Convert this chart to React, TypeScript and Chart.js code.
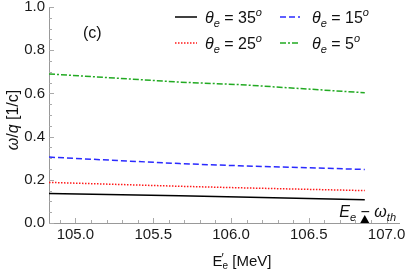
import { useEffect, useRef } from 'react';
import { Chart, registerables } from 'chart.js';

Chart.register(...registerables);

// ---- data ----
const energies = [104.83, 105.67, 106.05, 106.86];
const theta35 = [0.137, 0.126, 0.12, 0.108];
const theta25 = [0.188, 0.17, 0.163, 0.15];
const theta15 = [0.305, 0.275, 0.265, 0.248];
const theta5 = [0.69, 0.652, 0.641, 0.603];
const xTickValues = [105.0, 105.5, 106.0, 106.5, 107.0];
const yTickValues = [0.0, 0.2, 0.4, 0.6, 0.8, 1.0];
const xMinorStep = 0.1;
const yMinorStep = 0.05;
const xMin = 104.83;
const xMax = 107.08;
const thresholdEnergy = 106.86;
const angleLabels = ['35', '15', '25', '5'];

const FONT = "'Liberation Sans', Arial, Helvetica, sans-serif";

type Run = { text: string; size: number; italic?: boolean; dy?: number };

function runsWidth(ctx: CanvasRenderingContext2D, runs: Run[]) {
  let w = 0;
  for (const r of runs) {
    ctx.font = `${r.italic ? 'italic ' : ''}${r.size}px ${FONT}`;
    w += ctx.measureText(r.text).width;
  }
  return w;
}

function drawRuns(
  ctx: CanvasRenderingContext2D,
  runs: Run[],
  x: number,
  y: number,
  align: 'left' | 'center' | 'right' = 'left'
) {
  const total = runsWidth(ctx, runs);
  let cx = align === 'left' ? x : align === 'center' ? x - total / 2 : x - total;
  ctx.textAlign = 'left';
  ctx.textBaseline = 'alphabetic';
  for (const r of runs) {
    ctx.font = `${r.italic ? 'italic ' : ''}${r.size}px ${FONT}`;
    ctx.fillText(r.text, cx, y + (r.dy || 0));
    cx += ctx.measureText(r.text).width;
  }
}

const styles = [
  { color: '#000000', dash: [] as number[] },
  { color: '#2a2aff', dash: [6, 3] },
  { color: '#ff1a1a', dash: [1.5, 1.5] },
  { color: '#22aa22', dash: [6, 2, 2, 2] },
];

const decorPlugin = {
  id: 'decor',
  afterDraw(chart: any) {
    const ctx: CanvasRenderingContext2D = chart.ctx;
    const xs = chart.scales.x;
    const ys = chart.scales.y;
    const area = chart.chartArea;
    ctx.save();

    // inward ticks
    ctx.strokeStyle = '#aaaaaa';
    ctx.lineWidth = 1;
    ctx.setLineDash([]);
    const bottom = area.bottom;
    const left = area.left;
    for (let v = Math.ceil(xMin / xMinorStep) * xMinorStep; v <= xMax + 1e-9; v += xMinorStep) {
      const major = xTickValues.some((t) => Math.abs(t - v) < 1e-6);
      const px = Math.round(xs.getPixelForValue(v)) + 0.5;
      ctx.beginPath();
      ctx.moveTo(px, bottom);
      ctx.lineTo(px, bottom - (major ? 5 : 3));
      ctx.stroke();
    }
    for (let v = 0; v <= 1.0 + 1e-9; v += yMinorStep) {
      const major = yTickValues.some((t) => Math.abs(t - v) < 1e-6);
      const py = Math.round(ys.getPixelForValue(v)) + 0.5;
      ctx.beginPath();
      ctx.moveTo(left, py);
      ctx.lineTo(left + (major ? 5 : 3), py);
      ctx.stroke();
    }

    ctx.fillStyle = '#111111';

    // panel label
    drawRuns(ctx, [{ text: '(c)', size: 16 }], 83, 38);

    // legend
    const rows = [17, 43];
    const cols = [
      { sx: 175, ex: 197, tx: 205 },
      { sx: 280, ex: 300, tx: 312 },
    ];
    const order = [
      { s: 0, r: 0, c: 0, label: angleLabels[0] },
      { s: 1, r: 0, c: 1, label: angleLabels[1] },
      { s: 2, r: 1, c: 0, label: angleLabels[2] },
      { s: 3, r: 1, c: 1, label: angleLabels[3] },
    ];
    for (const o of order) {
      const st = styles[o.s];
      const y = rows[o.r];
      const col = cols[o.c];
      ctx.strokeStyle = st.color;
      ctx.lineWidth = 1.5;
      ctx.setLineDash(st.dash);
      ctx.beginPath();
      ctx.moveTo(col.sx, y);
      ctx.lineTo(col.ex, y);
      ctx.stroke();
      ctx.setLineDash([]);
      ctx.fillStyle = '#111111';
      drawRuns(
        ctx,
        [
          { text: 'θ', size: 16, italic: true },
          { text: 'e', size: 11, italic: true, dy: 4 },
          { text: ' = ' + o.label, size: 16 },
          { text: 'o', size: 11, italic: true, dy: -7 },
        ],
        col.tx,
        y + 6
      );
    }

    // threshold arrow
    const ax = xs.getPixelForValue(thresholdEnergy);
    ctx.fillStyle = '#000000';
    ctx.beginPath();
    ctx.moveTo(ax, bottom - 8);
    ctx.lineTo(ax - 4.5, bottom);
    ctx.lineTo(ax + 4.5, bottom);
    ctx.closePath();
    ctx.fill();
    ctx.fillStyle = '#111111';
    drawRuns(
      ctx,
      [
        { text: 'E', size: 16, italic: true },
        { text: 'e', size: 11, italic: true, dy: 4 },
        { text: ' − ', size: 16 },
        { text: 'ω', size: 16, italic: true },
        { text: 'th', size: 11, italic: true, dy: 4 },
      ],
      396,
      bottom - 6,
      'right'
    );

    // x axis title: E'_e [MeV]
    const xc = 242;
    ctx.font = `15px ${FONT}`;
    const ew = ctx.measureText('E').width;
    ctx.font = `10px ${FONT}`;
    const subw = ctx.measureText('e').width;
    ctx.font = `15px ${FONT}`;
    const restw = ctx.measureText(' [MeV]').width;
    const tot = ew + subw + restw;
    const sx = xc - tot / 2;
    const by = 266;
    ctx.textAlign = 'left';
    ctx.textBaseline = 'alphabetic';
    ctx.font = `15px ${FONT}`;
    ctx.fillText('E', sx, by);
    ctx.font = `12px ${FONT}`;
    ctx.fillText('′', sx + ew - 1, by - 4);
    ctx.font = `10px ${FONT}`;
    ctx.fillText('e', sx + ew, by + 3);
    ctx.font = `15px ${FONT}`;
    ctx.fillText(' [MeV]', sx + ew + subw, by);

    // y axis title
    ctx.save();
    ctx.translate(18, 120);
    ctx.rotate(-Math.PI / 2);
    drawRuns(
      ctx,
      [
        { text: 'ω', size: 16, italic: true },
        { text: '/', size: 16 },
        { text: 'q', size: 16, italic: true },
        { text: ' [1/c]', size: 16 },
      ],
      0,
      0,
      'center'
    );
    ctx.restore();

    ctx.restore();
  },
};

export default function App() {
  const ref = useRef<HTMLCanvasElement | null>(null);

  useEffect(() => {
    if (!ref.current) return;
    const series = [theta35, theta15, theta25, theta5];
    const names = angleLabels.map((a) => `θe = ${a}°`);
    const chart = new Chart(ref.current, {
      type: 'line',
      data: {
        datasets: series.map((vals, i) => ({
          label: names[i],
          data: energies.map((x, j) => ({ x, y: vals[j] })),
          borderColor: styles[i].color,
          borderDash: styles[i].dash,
          borderWidth: 1.5,
          pointRadius: 0,
          tension: 0,
          fill: false,
        })),
      },
      options: {
        animation: false,
        responsive: false,
        devicePixelRatio: 1,
        layout: { padding: { left: 0, top: 7, right: 15, bottom: 0 } },
        plugins: {
          legend: { display: false },
          tooltip: { enabled: false },
        },
        scales: {
          x: {
            type: 'linear',
            min: xMin,
            max: xMax,
            grid: { display: false, drawTicks: false },
            border: { display: true, color: '#999999', width: 1 },
            ticks: {
              padding: 3,
              color: '#1a1a1a',
              font: { size: 15, family: FONT },
              callback: (v: any) => Number(v).toFixed(1),
            },
            afterBuildTicks: (scale: any) => {
              scale.ticks = xTickValues.map((value) => ({ value }));
            },
            afterFit: (scale: any) => {
              scale.height = 48;
              scale.paddingLeft = 0;
              scale.paddingRight = 0;
            },
          },
          y: {
            type: 'linear',
            min: 0,
            max: 1,
            grid: { display: false, drawTicks: false },
            border: { display: true, color: '#999999', width: 1 },
            ticks: {
              padding: 4,
              color: '#1a1a1a',
              font: { size: 15, family: FONT },
              callback: (v: any) => Number(v).toFixed(1),
            },
            afterBuildTicks: (scale: any) => {
              scale.ticks = yTickValues.map((value) => ({ value }));
            },
            afterFit: (scale: any) => {
              scale.width = 49;
              scale.paddingTop = 0;
              scale.paddingBottom = 0;
            },
          },
        },
      },
      plugins: [decorPlugin],
    } as any);
    return () => chart.destroy();
  }, []);

  return (
    <div style={{ position: 'absolute', left: 0, top: 0, width: 414, height: 271, background: '#fff' }}>
      <canvas ref={ref} width={414} height={271} style={{ width: 414, height: 271 }} />
    </div>
  );
}
